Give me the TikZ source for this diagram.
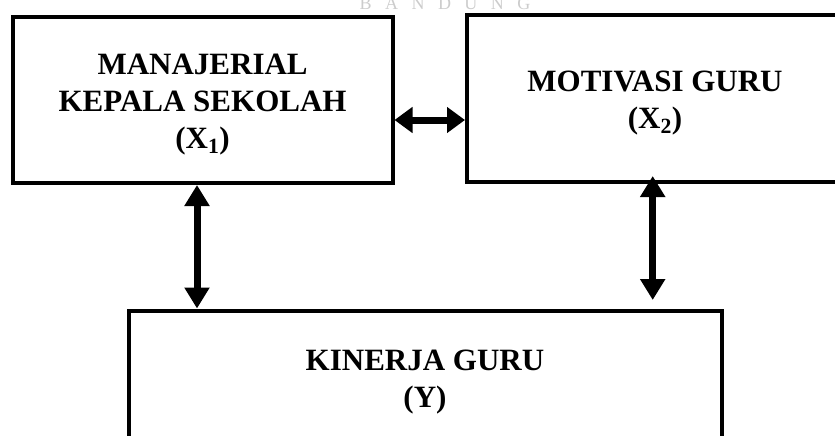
\documentclass[tikz,border=0pt]{standalone}
\usepackage{fontspec}
\setmainfont{Liberation Serif}
\usetikzlibrary{arrows.meta}
\newcommand{\wmgap}{\hspace{13.5pt}}
% extra headroom on the first line pushes each text block a little lower
\newcommand{\toppad}{\rule{0pt}{29pt}}
\begin{document}
\begin{tikzpicture}[x=1pt,y=-1pt,
  varbox/.style={draw, line width=4pt, align=center,
    font=\bfseries\fontsize{31}{37}\selectfont,
    inner sep=0pt, outer sep=0pt},
  link/.style={line width=7pt,
    {Triangle[width=24pt,length=21pt]}-{Triangle[width=24pt,length=21pt]}},
  hlink/.style={line width=7pt,
    {Triangle[width=25pt,length=18pt]}-{Triangle[width=25pt,length=18pt]}}]
\useasboundingbox (0,0) rectangle (835,436);
\clip (0,0) rectangle (835,436);

% faint letterhead text at the top edge
\node[text=black!20, font=\fontsize{18}{18}\selectfont, anchor=base, inner sep=0pt]
  (wm) at (445,10) {B\wmgap A\wmgap N\wmgap D\wmgap U\wmgap N\wmgap G};

% variable boxes
\node[varbox, minimum width=379.8pt, minimum height=166.3pt] (x1) at (202.6,99.85)
  {\toppad MANAJERIAL\\KEPALA SEKOLAH\\(X\textsubscript{1})};
\node[varbox, minimum width=376pt, minimum height=166.7pt] (x2) at (655,98.35)
  {\toppad MOTIVASI GURU\\(X\textsubscript{2})};
\node[varbox, minimum width=593pt, minimum height=135.5pt] (y) at (425,378.25)
  {\toppad KINERJA GURU\\(Y)};

% relations
\draw[hlink] ([xshift=2pt,yshift=-20.15pt]x1.east) -- ([xshift=-2pt,yshift=-21.65pt]x2.west);
\draw[link] ([xshift=-5.6pt,yshift=-2pt]x1.south) -- ([xshift=-228pt,yshift=2pt]y.north);
\draw[link] ([xshift=-2.3pt,yshift=5.7pt]x2.south) -- ([xshift=227.7pt,yshift=10.5pt]y.north);
\end{tikzpicture}
\end{document}
